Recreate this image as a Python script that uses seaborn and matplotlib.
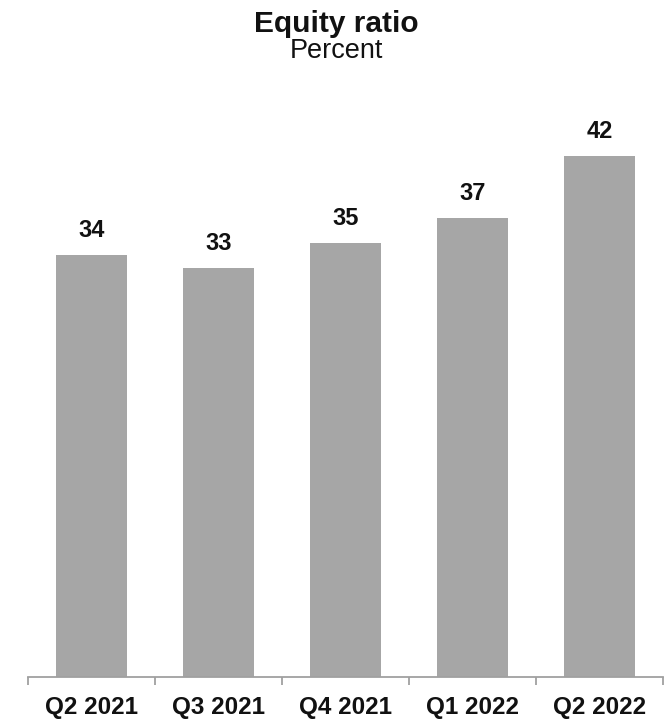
import matplotlib
matplotlib.use("Agg")
import matplotlib.pyplot as plt
import seaborn as sns
import pandas as pd
import numpy as np

quarters = ["Q2 2021", "Q3 2021", "Q4 2021", "Q1 2022", "Q2 2022"]
equity_ratio = [34, 33, 35, 37, 42]

sns.set_theme(style="white")
plt.rcParams["font.family"] = ["Liberation Sans", "DejaVu Sans"]

df = pd.DataFrame({"quarter": quarters, "ratio": equity_ratio})

fig = plt.figure(figsize=(6.72, 7.22), dpi=100)
W, H = 672, 722
left, right, bottom, top = 28, 663, 677, 119
ax = fig.add_axes([left / W, 1 - bottom / H, (right - left) / W, (bottom - top) / H])

bar_color = "#A6A6A6"
sns.barplot(data=df, x="quarter", y="ratio", color=bar_color, width=0.555,
            saturation=1, ax=ax, edgecolor="none")

ax.set_xlim(-0.5, len(quarters) - 0.5)
ax.set_ylim(0, 45)
ax.set_xlabel("")
ax.set_ylabel("")
ax.set_yticks([])

for s in ["top", "right", "left"]:
    ax.spines[s].set_visible(False)
ax.spines["bottom"].set_color("#A0A0A0")
ax.spines["bottom"].set_linewidth(1.3)

# category labels centred, boundary ticks between categories
ax.set_xticks(range(len(quarters)))
ax.set_xticklabels(quarters, fontsize=17.5, fontweight="bold", color="#111111")
ax.tick_params(axis="x", which="major", length=0, pad=14)
ax.set_xticks(np.arange(-0.5, len(quarters), 1.0), minor=True)
ax.tick_params(axis="x", which="minor", length=6, width=1.3, color="#A0A0A0",
               direction="out", bottom=True)

for i, v in enumerate(equity_ratio):
    ax.annotate(f"{v}", xy=(i, v), xytext=(0, 13), textcoords="offset points",
                ha="center", va="baseline", fontsize=17, fontweight="bold",
                color="#111111")

fig.text(0.5, 1 - 32 / H, "Equity ratio", ha="center", va="baseline",
         fontsize=21.5, fontweight="bold", color="#111111")
fig.text(0.5, 1 - 58 / H, "Percent", ha="center", va="baseline",
         fontsize=19.5, color="#111111")

fig.savefig("out.png", dpi=100)
